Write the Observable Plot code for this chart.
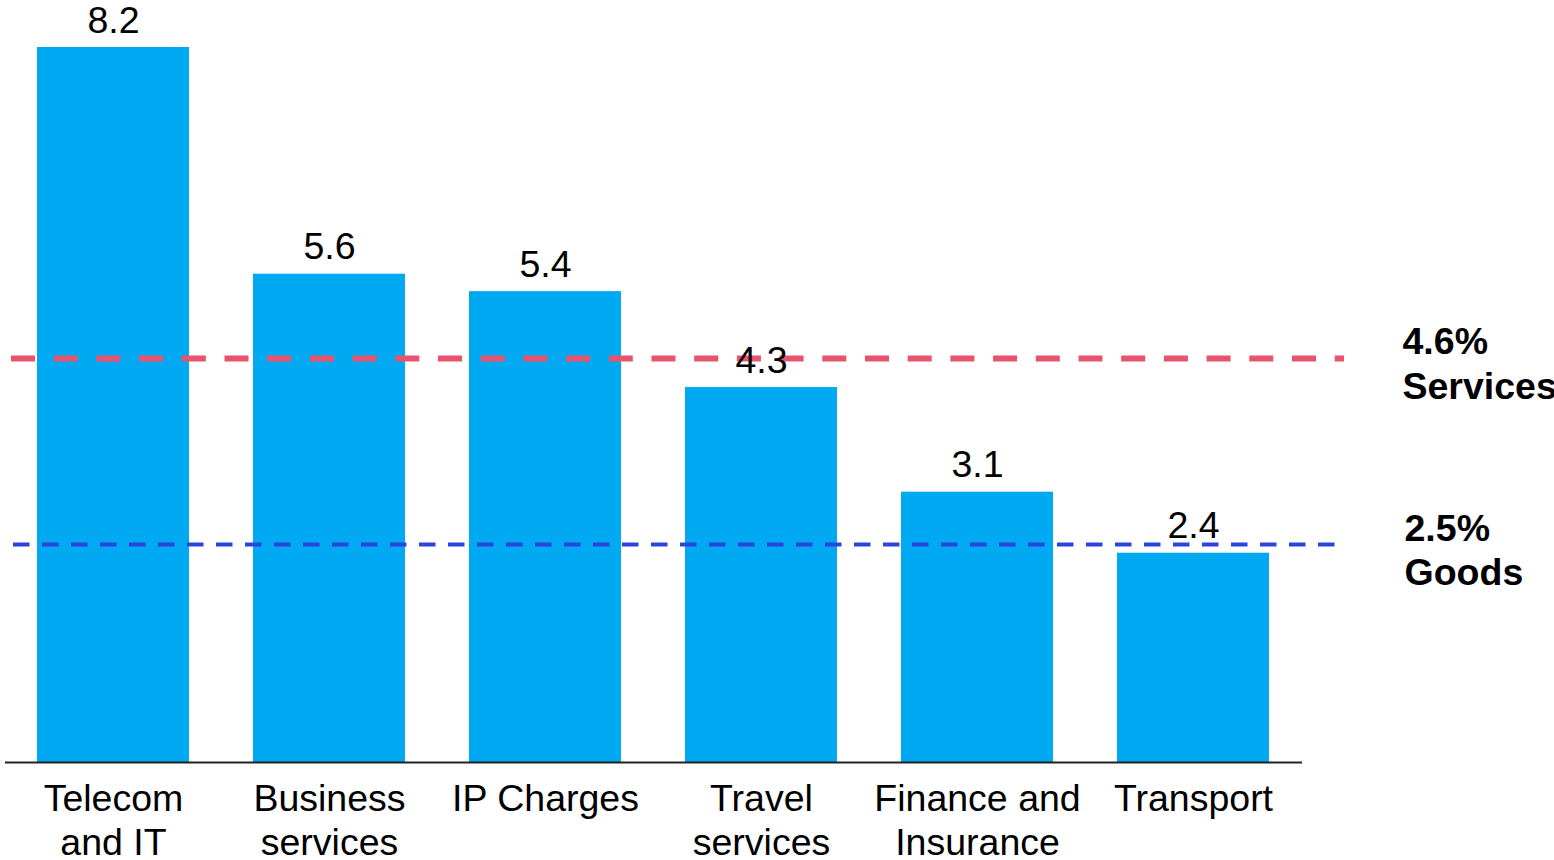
<!DOCTYPE html>
<html>
<head>
<meta charset="utf-8">
<script src="https://cdn.jsdelivr.net/npm/d3@7"></script>
<script src="https://cdn.jsdelivr.net/npm/@observablehq/plot@0.6"></script>
<style>
  html, body { margin: 0; padding: 0; background: #fff; }
  #chart svg { display: block; }
</style>
</head>
<body>
<div id="chart"></div>
<script>
const categories = ["Telecom\nand IT", "Business\nservices", "IP Charges", "Travel\nservices", "Finance and\nInsurance", "Transport"];
const values = [8.2, 5.6, 5.4, 4.3, 3.1, 2.4];
const refValues = [4.6, 2.5];
const refLabels = ["4.6%\nServices", "2.5%\nGoods"];

const data = categories.map((c, i) => ({category: c, value: values[i]}));
const services = [{value: refValues[0], label: refLabels[0]}];
const goods = [{value: refValues[1], label: refLabels[1]}];

const font = "'Liberation Sans', Arial, Helvetica, sans-serif";

const chart = Plot.plot({
  width: 1554,
  height: 860,
  marginLeft: 5,
  marginRight: 252,
  marginTop: 47,
  marginBottom: 98,
  style: {fontFamily: font, background: "#fff", color: "#000", overflow: "visible"},
  x: {domain: categories, paddingInner: 0.295, paddingOuter: 0.14, label: null},
  y: {domain: [0, 8.2], axis: null},
  marks: [
    Plot.barY(data, {x: "category", y: "value", fill: "#00A9F1"}),
    Plot.ruleY([0], {stroke: "#222", strokeWidth: 2}),
    Plot.ruleY(services, {y: "value", dy: -3, stroke: "#E8546E", strokeWidth: 6, strokeDasharray: "24,18.7", insetLeft: 6, insetRight: -42}),
    Plot.ruleY(goods, {y: "value", stroke: "#2B44DD", strokeWidth: 4, strokeDasharray: "16.5,12.5", insetLeft: 8, insetRight: -39}),
    Plot.text(data, {x: "category", y: "value", text: d => d.value.toFixed(1), lineAnchor: "bottom", dy: -15, fontSize: 37.5, fill: "#000"}),
    Plot.text(services, {y: "value", text: "label", frameAnchor: "right", textAnchor: "start", dx: 100, lineAnchor: "top", dy: -39.5, fontSize: 37.5, fontWeight: "bold", lineHeight: 1.2, fill: "#000"}),
    Plot.text(goods, {y: "value", text: "label", frameAnchor: "right", textAnchor: "start", dx: 102, lineAnchor: "top", dy: -34.5, fontSize: 37.5, fontWeight: "bold", lineHeight: 1.17, fill: "#000"}),
    Plot.axisX({tickSize: 0, tickPadding: 17, fontSize: 37.5, lineHeight: 1.18, fill: "#000", label: null})
  ]
});
document.getElementById("chart").appendChild(chart);
</script>
</body>
</html>
